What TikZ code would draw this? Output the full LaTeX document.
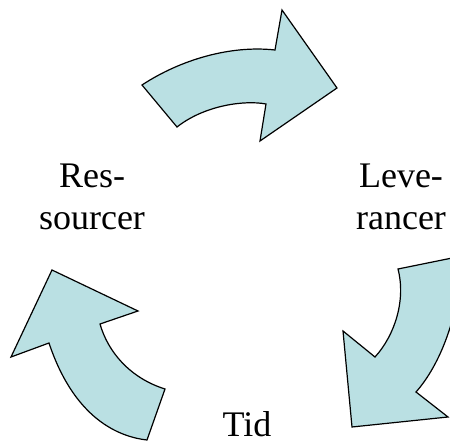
\documentclass[tikz,border=0pt]{standalone}
\usepackage{fontspec}
\setmainfont{Liberation Serif}
\usepackage{xcolor}
\definecolor{arrowblue}{RGB}{186,224,227}

\begin{document}
\begin{tikzpicture}[x=1pt,y=-1pt,
  blob/.style={fill=arrowblue,draw=black,line width=1.2pt,line join=miter},
  lbl/.style={font=\fontsize{36}{42}\selectfont,align=center,inner sep=0pt}]
\useasboundingbox (0,0) rectangle (450,443);
\clip (0,0) rectangle (450,443);
% top arrow
\draw[blob] (142,85) .. controls (180,60) and (230,45) .. (275,50)
  -- (282,10) -- (337,88) -- (260,141) -- (266,104)
  .. controls (245,100) and (205,105) .. (177,127) -- cycle;
% right arrow
\draw[blob] (398,269) -- (462,256) .. controls (460,315) and (440,365) .. (416,392)
  -- (448,417) -- (352,427) -- (343,331) -- (375,357)
  .. controls (395,335) and (406,300) .. (398,269) -- cycle;
% left arrow
\draw[blob] (147,440) .. controls (112,436) and (72,412) .. (49,343)
  -- (11,357) -- (52,270) -- (138,311) -- (100,324)
  .. controls (108,352) and (130,378) .. (165,389) -- cycle;
\node[lbl,anchor=base] (res) at (92,230) {Res-\\sourcer};
\node[lbl,anchor=base] (lev) at (401,230) {Leve-\\rancer};
\node[lbl,anchor=base] (tid) at (247,437) {Tid};
\end{tikzpicture}
\end{document}
